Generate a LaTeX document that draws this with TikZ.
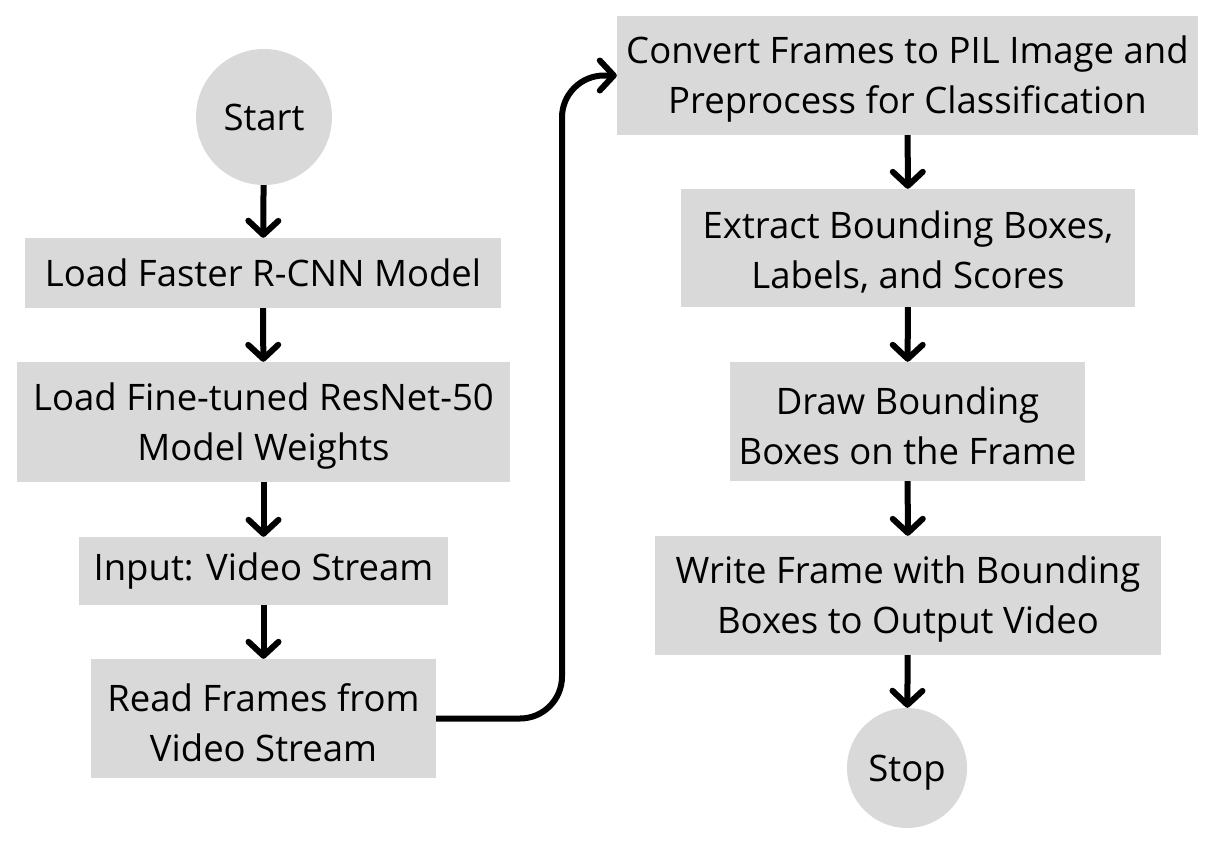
\documentclass[tikz,border=0pt]{standalone}
\usepackage{fontspec}
\setmainfont{Open Sans}
\usetikzlibrary{arrows.meta}
\definecolor{boxgray}{HTML}{D9D9D9}
\tikzset{
  box/.style={fill=boxgray, draw=none, inner sep=0pt},
  term/.style={circle, fill=boxgray, draw=none, inner sep=0pt},
  txt/.style={inner sep=0pt, align=center, text=black,
    font=\fontsize{36.5}{50}\selectfont},
  conn/.style={line width=6pt, draw=black,
    -{Straight Barb[length=14pt,width=30pt,line cap=round,line join=round]}},
}
\begin{document}
\begin{tikzpicture}[x=1pt,y=-1pt]
\useasboundingbox (0,0) rectangle (1215,841);
\node[term, minimum size=136pt] (start) at (264,117) {};
\node[box, minimum width=476pt, minimum height=70pt] (b1) at (263,273) {};
\node[box, minimum width=493pt, minimum height=120pt] (b2) at (263.5,422) {};
\node[box, minimum width=369pt, minimum height=68pt] (b3) at (263.5,571) {};
\node[box, minimum width=345pt, minimum height=119pt] (b4) at (263.5,718.5) {};
\node[box, minimum width=581pt, minimum height=119pt] (b5) at (907.5,75.5) {};
\node[box, minimum width=454pt, minimum height=118pt] (b6) at (908,248) {};
\node[box, minimum width=355pt, minimum height=119pt] (b7) at (907.5,421.5) {};
\node[box, minimum width=506pt, minimum height=119pt] (b8) at (908,595.5) {};
\node[term, minimum size=120pt] (stop) at (907,768) {};
\node[txt] (t0) at (start.center) {Start};
\node[txt] (t1) at (b1.center) {Load Faster R-CNN Model};
\node[txt] (t2) at ([yshift=-4pt]b2.center) {Load Fine-tuned ResNet-50\\Model Weights};
\node[txt] (t3) at (b3.center) {Input: Video Stream};
\node[txt] (t4) at ([yshift=-4pt]b4.center) {Read Frames from\\Video Stream};
\node[txt] (t5) at ([yshift=-4pt]b5.center) {Convert Frames to PIL Image and\\Preprocess for Classification};
\node[txt] (t6) at ([yshift=-4pt]b6.center) {Extract Bounding Boxes,\\Labels, and Scores};
\node[txt] (t7) at ([yshift=-4pt]b7.center) {Draw Bounding\\Boxes on the Frame};
\node[txt] (t8) at ([yshift=-4pt]b8.center) {Write Frame with Bounding\\Boxes to Output Video};
\node[txt] (t9) at ([yshift=-5pt]stop.center) {Stop};
\coordinate (mid) at (562,400);
\draw[conn] (start) -- (b1);
\draw[conn] (b1) -- (b2);
\draw[conn] (b2) -- (b3);
\draw[conn] (b3) -- (b4);
\draw[conn, rounded corners=42pt] (b4.east) -- (b4.east -| mid) -- (b5.west -| mid) -- (b5.west);
\draw[conn] (b5) -- (b6);
\draw[conn] (b6) -- (b7);
\draw[conn] (b7) -- (b8);
\draw[conn] (b8) -- (stop);
\end{tikzpicture}
\end{document}
